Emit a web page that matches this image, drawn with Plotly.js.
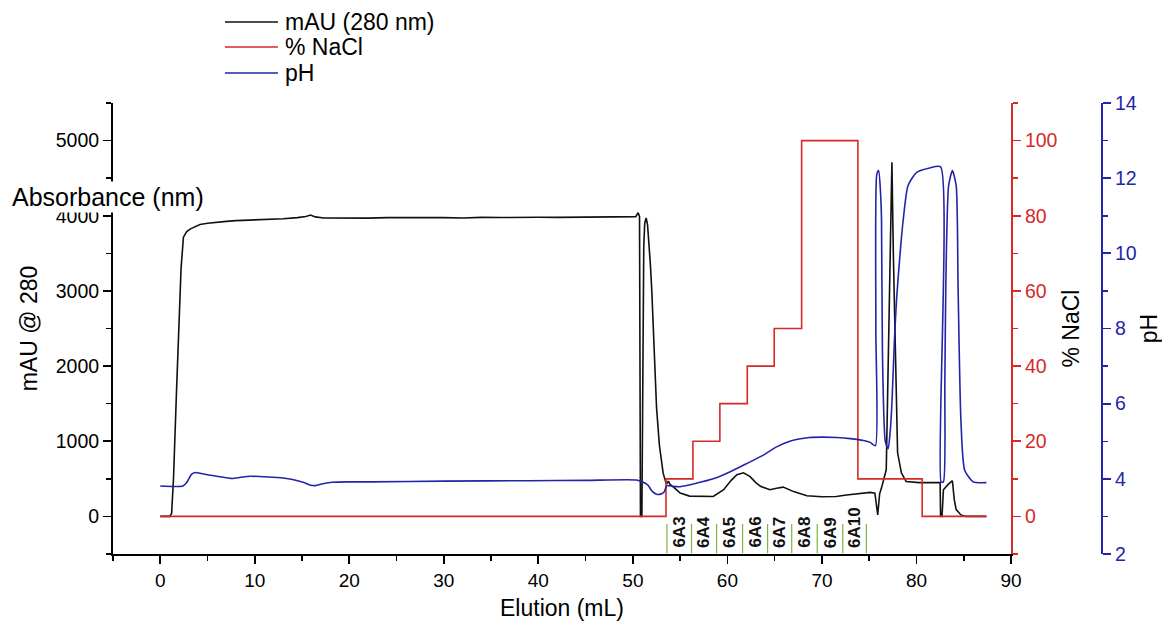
<!DOCTYPE html>
<html>
<head>
<meta charset="utf-8">
<script src="https://cdn.plot.ly/plotly-3.0.1.min.js"></script>
<style>
  html, body { margin: 0; padding: 0; background: #ffffff; }
  #chart { width: 1162px; height: 624px; }
</style>
</head>
<body>
<div id="chart"></div>
<script>
// UV absorbance at 280 nm along the elution volume (mL)
const elutionAbs = [0, 1.0, 1.2, 1.4, 1.7, 2.0, 2.2, 2.45, 2.8, 3.2, 3.7, 4.2, 5.0, 6.0, 7.0, 8.0, 9.5, 11, 13, 14.5, 15.4, 15.9, 16.4, 17.3, 18.5, 20, 22, 24, 26, 28, 30, 32, 34, 36, 38, 40, 42, 44, 46, 48, 50.3, 50.55, 50.7, 50.76, 50.8, 50.95, 51.05, 51.15, 51.25, 51.4, 51.55, 51.7, 51.85, 52.0, 52.2, 52.5, 52.8, 53.2, 53.5, 53.6, 53.75, 53.9, 54.3, 55.0, 56.0, 57.0, 58.5, 59.6, 60.4, 61.0, 61.7, 62.4, 63.0, 63.5, 64.5, 65.2, 65.9, 67.0, 68.4, 70.0, 71.5, 72.6, 74.0, 75.1, 75.6, 75.9, 76.1, 76.3, 76.8, 77.0, 77.25, 77.4, 77.55, 77.8, 78.0, 78.4, 78.9, 80.3, 82.5, 82.55, 82.7, 82.85, 83.3, 83.8, 84.0, 84.2, 84.7, 85.2, 87.4];
const mAU280 = [0, 0, 40, 500, 1600, 2700, 3300, 3715, 3790, 3826, 3860, 3883, 3900, 3915, 3925, 3935, 3940, 3950, 3960, 3975, 3990, 4010, 3985, 3970, 3968, 3972, 3968, 3975, 3978, 3972, 3975, 3970, 3978, 3976, 3982, 3980, 3978, 3983, 3980, 3985, 3988, 4040, 3990, 1500, 0, 0, 2500, 3600, 3900, 3970, 3880, 3650, 3350, 3000, 2350, 1450, 950, 575, 445, 440, 470, 430, 390, 310, 270, 265, 265, 355, 480, 555, 580, 530, 450, 400, 355, 375, 390, 330, 275, 262, 265, 285, 300, 320, 310, 20, 300, 380, 620, 2170, 3940, 4710, 3500, 1725, 850, 580, 465, 450, 450, 0, 0, 355, 420, 475, 220, 90, 20, 0, 0];

// Salt gradient (% NaCl), drawn as steps
const elutionNaCl = [0, 53.5, 56.35, 59.2, 62.1, 64.95, 67.85, 73.8, 80.6, 87.4];
const pctNaCl = [0, 10, 20, 30, 40, 50, 100, 10, 0, 0];

// pH trace
const elutionPH = [0, 2.4, 2.8, 3.3, 3.7, 4.2, 5.0, 6.0, 7.6, 8.5, 9.5, 11.4, 13, 14.0, 15.2, 15.9, 16.4, 17.2, 18.2, 20, 22.3, 30, 38.9, 45, 50.4, 51.0, 51.6, 52.0, 52.5, 53.0, 53.3, 53.6, 54.2, 55.0, 56.7, 58.5, 60.3, 62.0, 63.8, 65.2, 66.6, 68.7, 70.0, 71.6, 73.0, 74.4, 75.1, 75.65, 75.7, 75.8, 76.0, 76.2, 76.3, 76.4, 76.7, 77.0, 77.2, 77.4, 77.65, 77.9, 78.3, 78.6, 79.1, 80.0, 81.4, 82.55, 82.6, 82.85, 83.0, 83.1, 83.4, 83.8, 84.2, 84.4, 84.7, 85.1, 86.0, 87.4];
const pH = [3.81, 3.81, 3.9, 4.12, 4.17, 4.15, 4.11, 4.07, 4.01, 4.04, 4.07, 4.05, 4.02, 3.98, 3.9, 3.83, 3.82, 3.87, 3.91, 3.92, 3.92, 3.94, 3.95, 3.96, 3.97, 3.92, 3.83, 3.68, 3.59, 3.6, 3.65, 3.82, 3.8, 3.79, 3.88, 4.0, 4.19, 4.4, 4.63, 4.85, 5.0, 5.1, 5.11, 5.1, 5.07, 5.02, 4.97, 4.88, 8.0, 12.1, 12.2, 11.6, 10.9, 7.35, 5.0, 4.8, 5.2, 6.0, 7.6, 8.8, 10.1, 10.9, 11.8, 12.15, 12.27, 12.3, 3.92, 3.92, 6.5, 9.1, 11.8, 12.2, 11.8, 9.1, 5.56, 4.23, 3.92, 3.9];

// Collected fractions: boundaries (mL) and their names
const fractionEdges = [53.6, 56.2, 58.85, 61.6, 64.25, 66.8, 69.5, 72.2, 74.7];
const fractionNames = ['6A3', '6A4', '6A5', '6A6', '6A7', '6A8', '6A9', '6A10'];

const FONT = 'Liberation Sans, Arial, sans-serif';
const RED = '#d42a2a';
const BLUE = '#2424a8';
const GREEN = '#7cb342';

const traces = [
  { x: elutionAbs, y: mAU280, name: 'mAU (280 nm)', type: 'scatter', mode: 'lines',
    line: { color: '#111111', width: 1.6 }, yaxis: 'y' },
  { x: elutionNaCl, y: pctNaCl, name: '% NaCl', type: 'scatter', mode: 'lines',
    line: { color: RED, width: 1.6, shape: 'hv' }, yaxis: 'y2' },
  { x: elutionPH, y: pH, name: 'pH', type: 'scatter', mode: 'lines',
    line: { color: BLUE, width: 1.6, shape: 'spline', smoothing: 0.6 }, yaxis: 'y3' }
];

// fraction markers under the trace
const shapes = fractionEdges.map(e => ({
  type: 'line', xref: 'x', yref: 'y', x0: e, x1: e, y0: -100, y1: -490,
  line: { color: GREEN, width: 1.2 }
}));

const annotations = fractionNames.map((name, i) => ({
  xref: 'x', yref: 'y',
  x: (fractionEdges[i] + fractionEdges[i + 1]) / 2, y: -445,
  text: '<b>' + name + '</b>', showarrow: false, textangle: -90,
  xanchor: 'center', yanchor: 'bottom',
  font: { family: FONT, size: 17, color: '#111111' }
}));

// key in the top-left corner, one row per trace
const keyRowsY = [1.1796, 1.1242, 1.0665];
traces.forEach((t, i) => {
  shapes.push({
    type: 'line', xref: 'paper', yref: 'paper', x0: 0.1132, x1: 0.1668,
    y0: keyRowsY[i], y1: keyRowsY[i], line: { color: t.line.color, width: 1.6 }
  });
  annotations.push({
    xref: 'paper', yref: 'paper', x: 0.1719, y: keyRowsY[i], xanchor: 'left', yanchor: 'middle',
    text: t.name, showarrow: false, font: { family: FONT, size: 23, color: '#000000' }
  });
});

annotations.push({
  xref: 'paper', yref: 'paper', x: -0.104, y: 0.791, xanchor: 'left', yanchor: 'middle',
  text: 'Absorbance (nm)', showarrow: false, bgcolor: '#ffffff', borderpad: 1,
  font: { family: FONT, size: 25, color: '#000000' }
});

const axisCommon = {
  showgrid: false, zeroline: false, showline: true, linewidth: 2,
  ticks: 'outside', ticklen: 8, tickwidth: 1.8
};

const layout = {
  width: 1162, height: 624,
  margin: { l: 113, r: 60, t: 103, b: 70 },
  paper_bgcolor: '#ffffff', plot_bgcolor: '#ffffff',
  font: { family: FONT, size: 19, color: '#000000' },
  showlegend: false,
  xaxis: Object.assign({}, axisCommon, {
    domain: [0, 0.908], range: [-5, 90], dtick: 10, tick0: 0,
    linecolor: '#000000', tickcolor: '#000000',
    minor: { dtick: 5, tick0: 0, ticks: 'outside', ticklen: 5, tickwidth: 1.5, tickcolor: '#000000' },
    tickfont: { family: FONT, size: 19, color: '#000000' },
    title: { text: 'Elution (mL)', font: { family: FONT, size: 23, color: '#000000' }, standoff: 10 }
  }),
  yaxis: Object.assign({}, axisCommon, {
    range: [-500, 5500], dtick: 1000, tick0: 0,
    linecolor: '#000000', tickcolor: '#000000',
    minor: { dtick: 500, tick0: 0, ticks: 'outside', ticklen: 5, tickwidth: 1.5, tickcolor: '#000000' },
    tickfont: { family: FONT, size: 19.5, color: '#000000' },
    title: { text: 'mAU @ 280', font: { family: FONT, size: 23, color: '#000000' }, standoff: 12 }
  }),
  yaxis2: Object.assign({}, axisCommon, {
    overlaying: 'y', side: 'right', anchor: 'x',
    range: [-10, 110], dtick: 20, tick0: 0,
    linecolor: RED, tickcolor: RED,
    minor: { dtick: 10, tick0: 0, ticks: 'outside', ticklen: 5, tickwidth: 1.5, tickcolor: RED },
    tickfont: { family: FONT, size: 19.5, color: RED },
    title: { text: '% NaCl', font: { family: FONT, size: 23, color: '#000000' }, standoff: 6 }
  }),
  yaxis3: Object.assign({}, axisCommon, {
    overlaying: 'y', side: 'right', anchor: 'free', position: 1,
    range: [2, 14], dtick: 2, tick0: 2,
    linecolor: BLUE, tickcolor: BLUE,
    minor: { dtick: 1, tick0: 2, ticks: 'outside', ticklen: 5, tickwidth: 1.5, tickcolor: BLUE },
    tickfont: { family: FONT, size: 19.5, color: BLUE },
    title: { text: 'pH', font: { family: FONT, size: 23, color: '#000000' }, standoff: 4 }
  }),
  shapes: shapes,
  annotations: annotations
};

Plotly.newPlot('chart', traces, layout, { displayModeBar: false, staticPlot: true });
</script>
</body>
</html>
